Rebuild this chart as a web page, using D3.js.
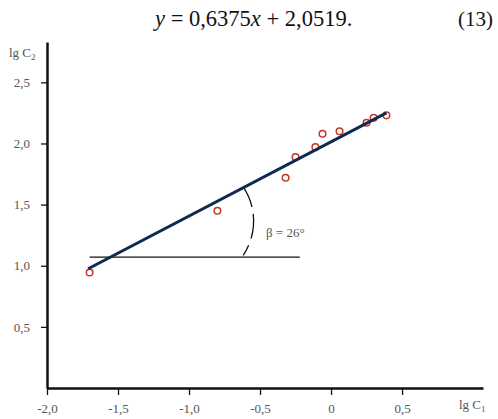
<!DOCTYPE html>
<html lang="en">
<head>
    <meta charset="UTF-8">
    <title>lg C2 vs lg C1</title>
    <script src="https://d3js.org/d3.v7.min.js"></script>
    <style>
        body{ margin:0; background:#fff; }
        svg text{ font-family:"Liberation Serif", "Times New Roman", serif; }
        .axis path, .axis line{ stroke:#111; }
        .axis path{ stroke-width:2.5; }
        .axis line{ stroke-width:1.3; }
        .axis text{ font-size:13px; fill:#555; font-family:"Liberation Serif", serif; }
    </style>
</head>
<body>
<script>
    // size of the picture
    var w = 498, h = 419;

    // data (lg C1, lg C2)
    var lgC1 = [-1.70, -0.80, -0.32, -0.25, -0.11, -0.06, 0.06, 0.25, 0.30, 0.39];
    var lgC2 = [0.945, 1.45, 1.72, 1.89, 1.97, 2.08, 2.10, 2.17, 2.21, 2.23];

    // regression line ends and the horizontal reference line
    var fitX = [-1.71, 0.39];
    var fitY = [0.975, 2.25];
    var baseX = [-1.70, -0.22];
    var baseY = 1.07;

    // the angle mark (centre in data units, radius in x units)
    var arcCentre = [-0.975, 1.365];
    var arcRadius = 0.43;
    var arcLabel = "β = 26°";

    var xTicks = [-2, -1.5, -1, -0.5, 0, 0.5];
    var yTicks = [0.5, 1, 1.5, 2, 2.5];

    var svg = d3.select("body").append("svg")
        .attr("width", w)
        .attr("height", h);

    var xScale = d3.scaleLinear().domain([-2, 1.07]).range([47, 483]);
    var yScale = d3.scaleLinear().domain([0, 2.83]).range([388, 42]);

    var fmt = d => d === 0 ? "0" : d.toFixed(1).replace(".", ",");

    // equation on top
    var eq = svg.append("text")
        .attr("x", 155).attr("y", 26)
        .attr("font-size", 22.5).attr("fill", "#111");
    eq.append("tspan").attr("font-style", "italic").text("y");
    eq.append("tspan").text(" = 0,6375");
    eq.append("tspan").attr("font-style", "italic").text("x");
    eq.append("tspan").text(" + 2,0519.");

    svg.append("text")
        .attr("x", 493).attr("y", 26)
        .attr("text-anchor", "end")
        .attr("font-size", 21).attr("fill", "#111")
        .text("(13)");

    // axes
    var xAxis = d3.axisBottom(xScale)
        .tickValues(xTicks)
        .tickFormat(fmt)
        .tickSize(7)
        .tickSizeOuter(0)
        .tickPadding(9);

    var yAxis = d3.axisLeft(yScale)
        .tickValues(yTicks)
        .tickFormat(fmt)
        .tickSize(6)
        .tickSizeOuter(0)
        .tickPadding(11);

    svg.append("g")
        .classed("axis", true)
        .attr("transform", `translate(0, ${yScale(0)})`)
        .call(xAxis);

    svg.append("g")
        .classed("axis", true)
        .attr("transform", `translate(${xScale(-2)}, 0)`)
        .call(yAxis);

    // axis names
    var yName = svg.append("text")
        .attr("x", 9).attr("y", 57)
        .attr("font-size", 13).attr("fill", "#555");
    yName.append("tspan").text("lg C");
    yName.append("tspan").attr("font-size", 9).attr("dy", 3).text("2");

    var xName = svg.append("text")
        .attr("x", 459).attr("y", 409)
        .attr("font-size", 13).attr("fill", "#555");
    xName.append("tspan").text("lg C");
    xName.append("tspan").attr("font-size", 9).attr("dy", 3).text("1");

    // horizontal line
    svg.append("line")
        .attr("x1", xScale(baseX[0])).attr("x2", xScale(baseX[1]))
        .attr("y1", yScale(baseY)).attr("y2", yScale(baseY))
        .attr("stroke", "#111")
        .attr("stroke-width", 1.2);

    // angle mark
    var cx = xScale(arcCentre[0]), cy = yScale(arcCentre[1]);
    var r = xScale(arcCentre[0] + arcRadius) - cx;
    var a0 = -34 * Math.PI / 180, a1 = 34 * Math.PI / 180;
    var p = d3.path();
    p.arc(cx, cy, r, a0, a1);
    svg.append("path")
        .attr("d", p.toString())
        .attr("fill", "none")
        .attr("stroke", "#111")
        .attr("stroke-width", 1.3)
        .attr("stroke-dasharray", "22,7,25,7,14");

    svg.append("text")
        .attr("x", 266).attr("y", 237)
        .attr("font-size", 13).attr("fill", "#555")
        .text(arcLabel);

    // points
    var points = d3.zip(lgC1, lgC2);
    svg.selectAll("circle")
        .data(points)
        .enter()
        .append("circle")
        .attr("cx", d => xScale(d[0]))
        .attr("cy", d => yScale(d[1]))
        .attr("r", 3.3)
        .attr("fill", "#fff")
        .attr("stroke", "#c0392b")
        .attr("stroke-width", 1.5);

    // regression line
    svg.append("line")
        .attr("x1", xScale(fitX[0])).attr("y1", yScale(fitY[0]))
        .attr("x2", xScale(fitX[1])).attr("y2", yScale(fitY[1]))
        .attr("stroke", "#0f2a50")
        .attr("stroke-width", 3);
</script>
</body>
</html>
